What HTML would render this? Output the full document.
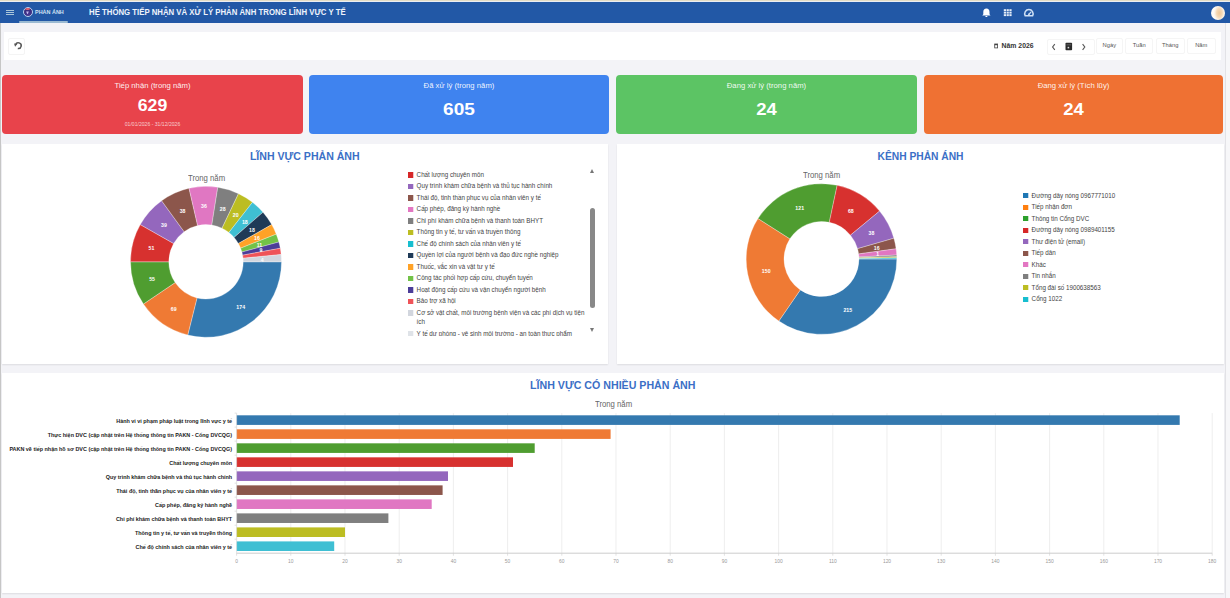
<!DOCTYPE html>
<html lang="vi">
<head>
<meta charset="utf-8">
<title>Hệ thống tiếp nhận và xử lý phản ánh trong lĩnh vực y tế</title>
<style>
*{box-sizing:border-box;margin:0;padding:0}
html,body{width:1230px;height:598px;overflow:hidden}
body{position:relative;background:#f3f3f7;font-family:"Liberation Sans",Arial,sans-serif;color:#333}
.abs{position:absolute}
#topstrip{left:0;top:0;width:1230px;height:2px;background:linear-gradient(#e4dcc4 0,#e4dcc4 60%,#eceef2 75%,#eceef2 100%)}
#leftline{left:0;top:23px;width:1.3px;height:575px;background:#c6c6c6}
#hdr{left:0;top:2px;width:1230px;height:21px;background:#2258a6}
#hdr .ham{left:5.8px;top:7.6px;width:7.8px;height:5.6px;border-top:1.2px solid #aac6da;border-bottom:1.2px solid #aac6da}
#hdr .ham:after{content:"";position:absolute;left:0;top:1.4px;width:7.8px;height:1.1px;background:#aac6da}
#hdr .logo{left:22.6px;top:5.4px;width:10px;height:10px;border-radius:50%;background:radial-gradient(circle at 50% 70%,#4b3a96 0,#3a2c7e 55%,#3a2c7e 62%);border:1px solid #b8d0ee;overflow:hidden}
#hdr .logo:before{content:"";position:absolute;left:1.5px;top:-1.2px;width:5px;height:2.6px;border-radius:50%;background:#e2646e}
#hdr .logo:after{content:"";position:absolute;left:2.6px;top:3px;width:2.6px;height:3px;background:#c8c0f0;clip-path:polygon(0 0,100% 0,50% 100%)}
#hdr .brand{left:35px;top:7px;font-size:5.46px;font-weight:bold;color:#cfe0f2;white-space:nowrap;letter-spacing:0}
#hdr .uline{left:18.5px;top:19.4px;width:49px;height:1.8px;background:#9bbad2;border-radius:1px}
#hdr .title{left:88.6px;top:5.3px;font-size:8.9px;transform:scaleX(0.878);transform-origin:0 0;font-weight:bold;color:#eef3fb;white-space:nowrap}
#hdr .ic{color:#fff}
#hdr .avatar{left:1210.6px;top:3.8px;width:14.5px;height:14.5px;border-radius:50%;background:radial-gradient(ellipse 40% 60% at 60% 50%,#f0c898 0,#f5d9b6 50%,#fbf0e2 80%,#fefbf6 100%)}

#toolbar{left:3.5px;top:31.5px;width:1217.5px;height:28px;background:#fff}
#refresh{left:8px;top:38px;width:16.5px;height:16.5px;border:1px solid #f4f4f4;border-radius:2px;background:#fff}
.yearlbl{left:993px;top:42px;font-size:6.85px;font-weight:bold;color:#333;white-space:nowrap}
.btngrp{left:1047.4px;top:38.5px;height:16px;width:48px;border:1px solid #f5f5f5;background:#fff;border-radius:2px}
.pbtn{top:38.2px;height:15.8px;border:1px solid #f5f5f5;border-radius:2px;background:#fff;font-size:5.75px;color:#555;text-align:center;line-height:13.4px;white-space:nowrap}

.card{top:75px;height:59px;border-radius:4px;color:#fff;text-align:center}
.card .lbl{position:absolute;left:0;right:0;top:5.8px;font-size:7.72px;color:rgba(255,255,255,.92);white-space:nowrap}
.card .num{position:absolute;left:0;right:0;font-weight:bold;color:#fff;white-space:nowrap}
.card .sub{position:absolute;left:0;right:0;top:45.5px;font-size:5.1px;color:rgba(255,255,255,.72);white-space:nowrap}

.panel{background:#fff;box-shadow:0 1px 1.5px rgba(0,0,0,.09)}
.ptitle{position:absolute;left:0;right:0;text-align:center;font-weight:bold;color:#3b6fc6;white-space:nowrap}
.sub2{font-size:8.6px;color:#666;white-space:nowrap;transform:scaleX(0.9);transform-origin:0 0}

.leg{font-size:7.1px;color:#444;transform:scaleX(0.88);transform-origin:0 0}
.leg .li{position:relative;padding-left:9.8px;line-height:9.4px;padding-bottom:2.1px}
.leg .li i{position:absolute;left:0;top:1.5px;width:6.2px;height:5.3px}
</style>
</head>
<body>
<div id="topstrip" class="abs"></div>
<div id="hdr" class="abs">
  <div class="abs ham"></div>
  <div class="abs logo"></div>
  <div class="abs brand">PHẢN ÁNH</div>
  <div class="abs uline"></div>
  <div class="abs title">HỆ THỐNG TIẾP NHẬN VÀ XỬ LÝ PHẢN ÁNH TRONG LĨNH VỰC Y TẾ</div>
  <svg class="abs" style="left:0;top:0" width="1230" height="21" viewBox="0 2 1230 21">
    <!-- bell -->
    <path d="M986.4,8.6c-2,0-3.1,1.5-3.1,3.4v2.3l-1,1.3h8.2l-1-1.3v-2.3c0-1.9-1.1-3.4-3.1-3.4z M985.3,16.1h2.2c0,0.7-0.5,1-1.1,1s-1.1-0.3-1.1-1z" fill="#fff"/>
    <!-- grid -->
    <g fill="#e6eef8">
      <rect x="1003.8" y="9.2" width="2.2" height="1.9"/><rect x="1006.6" y="9.2" width="2.2" height="1.9"/><rect x="1009.4" y="9.2" width="2.2" height="1.9"/>
      <rect x="1003.8" y="11.7" width="2.2" height="1.9"/><rect x="1006.6" y="11.7" width="2.2" height="1.9"/><rect x="1009.4" y="11.7" width="2.2" height="1.9"/>
      <rect x="1003.8" y="14.2" width="2.2" height="1.9"/><rect x="1006.6" y="14.2" width="2.2" height="1.9"/><rect x="1009.4" y="14.2" width="2.2" height="1.9"/>
    </g>
    <!-- gauge -->
    <path d="M1025.2,15.8a4.2,4.2 0 1 1 7.4,0z" fill="none" stroke="#cfe0f5" stroke-width="1.5"/>
    <path d="M1028.9,14.4l2.2,-2.6" stroke="#cfe0f5" stroke-width="1.3"/>
    <circle cx="1028.9" cy="14.4" r="0.9" fill="#cfe0f5"/>
  </svg>
  <div class="abs avatar"></div>
</div>
<div id="leftline" class="abs"></div>
<div class="abs" style="left:1225px;top:23px;width:1px;height:575px;background:#e2e2e6"></div>
<div class="abs" style="left:1226px;top:23px;width:4px;height:575px;background:#f7f7f9"></div>

<div id="toolbar" class="abs"></div>
<div id="refresh" class="abs">
  <svg width="16" height="16" viewBox="0 0 16 16" style="position:absolute;left:0;top:0">
    <path d="M6.6,5.6A2.9,2.9 0 1 1 8.8,9.5" fill="none" stroke="#555" stroke-width="1.5"/>
    <path d="M5.0,4.5l3.3,0.5l-2.2,2.7z" fill="#555"/>
  </svg>
</div>
<div class="abs yearlbl"><svg width="6" height="6" viewBox="0 0 6 6" style="position:absolute;left:0.8px;top:1.4px"><rect x="0.7" y="1.0" width="2.9" height="3.9" fill="none" stroke="#444" stroke-width="0.8"/><rect x="0.7" y="1.0" width="2.9" height="1.2" fill="#444"/></svg><span style="padding-left:8.6px">Năm 2026</span></div>
<div class="abs btngrp">
  <svg width="48" height="16" viewBox="0 0 48 16" style="position:absolute;left:-1px;top:-1px">
    <path d="M7.8,5.2l-2.2,2.8l2.2,2.8" fill="none" stroke="#555" stroke-width="1.1"/>
    <rect x="18.5" y="3.8" width="6.6" height="7.4" rx="0.8" fill="#2a2a2a"/>
    <rect x="19.4" y="5.6" width="4.8" height="0.6" fill="#888"/>
    <rect x="20.6" y="7.8" width="1.6" height="1.6" fill="#ddd"/>
    <path d="M35.6,5.2l2.2,2.8l-2.2,2.8" fill="none" stroke="#555" stroke-width="1.1"/>
  </svg>
</div>
<div class="abs pbtn" style="left:1095.7px;width:27.3px">Ngày</div>
<div class="abs pbtn" style="left:1125.3px;width:27.9px">Tuần</div>
<div class="abs pbtn" style="left:1156px;width:28.5px">Tháng</div>
<div class="abs pbtn" style="left:1186.7px;width:29.1px">Năm</div>

<div class="abs card" style="left:2px;width:301px;background:#e8434b">
  <div class="lbl">Tiếp nhận (trong năm)</div>
  <div class="num" style="top:20.9px;font-size:17px;transform:scaleX(1.04)">629</div>
  <div class="sub">01/01/2026 - 31/12/2026</div>
</div>
<div class="abs card" style="left:309px;width:300px;background:#3f83ef">
  <div class="lbl">Đã xử lý (trong năm)</div>
  <div class="num" style="top:24.7px;font-size:17px;transform:scaleX(1.12)">605</div>
</div>
<div class="abs card" style="left:616px;width:301px;background:#5cc464">
  <div class="lbl">Đang xử lý (trong năm)</div>
  <div class="num" style="top:24.7px;font-size:17px;transform:scaleX(1.09)">24</div>
</div>
<div class="abs card" style="left:924px;width:299px;background:#ef7133">
  <div class="lbl">Đang xử lý (Tích lũy)</div>
  <div class="num" style="top:24.7px;font-size:17px;transform:scaleX(1.09)">24</div>
</div>

<!-- Left pie panel -->
<div class="abs panel" style="left:1.5px;top:143.5px;width:606.5px;height:220px">
  <div class="ptitle" style="top:6.3px;font-size:10.57px">LĨNH VỰC PHẢN ÁNH</div>
</div>
<div class="abs sub2" style="left:188px;top:173px">Trong năm</div>
<svg class="abs" style="left:0;top:0" width="610" height="370" viewBox="0 0 610 370">
<path d="M281.50,261.80A75.5,75.5 0 0 1 187.73,335.06L197.00,297.90A37.2,37.2 0 0 0 243.20,261.80Z" fill="#3479af" stroke="#fff" stroke-width="0.3"/>
<path d="M187.73,335.06A75.5,75.5 0 0 1 143.41,304.02L175.16,282.60A37.2,37.2 0 0 0 197.00,297.90Z" fill="#ef7a34" stroke="#fff" stroke-width="0.3"/>
<path d="M143.41,304.02A75.5,75.5 0 0 1 130.50,261.80L168.80,261.80A37.2,37.2 0 0 0 175.16,282.60Z" fill="#4f9d30" stroke="#fff" stroke-width="0.3"/>
<path d="M130.50,261.80A75.5,75.5 0 0 1 140.29,224.62L173.62,243.48A37.2,37.2 0 0 0 168.80,261.80Z" fill="#d7312f" stroke="#fff" stroke-width="0.3"/>
<path d="M140.29,224.62A75.5,75.5 0 0 1 161.62,200.72L184.13,231.70A37.2,37.2 0 0 0 173.62,243.48Z" fill="#9467bd" stroke="#fff" stroke-width="0.3"/>
<path d="M161.62,200.72A75.5,75.5 0 0 1 189.02,188.24L197.63,225.55A37.2,37.2 0 0 0 184.13,231.70Z" fill="#8c564b" stroke="#fff" stroke-width="0.3"/>
<path d="M189.02,188.24A75.5,75.5 0 0 1 217.81,187.23L211.82,225.06A37.2,37.2 0 0 0 197.63,225.55Z" fill="#e077c2" stroke="#fff" stroke-width="0.3"/>
<path d="M217.81,187.23A75.5,75.5 0 0 1 238.50,193.65L222.02,228.22A37.2,37.2 0 0 0 211.82,225.06Z" fill="#7f7f7f" stroke="#fff" stroke-width="0.3"/>
<path d="M238.50,193.65A75.5,75.5 0 0 1 252.48,202.31L228.90,232.49A37.2,37.2 0 0 0 222.02,228.22Z" fill="#bcbd22" stroke="#fff" stroke-width="0.3"/>
<path d="M252.48,202.31A75.5,75.5 0 0 1 262.98,212.27L234.08,237.39A37.2,37.2 0 0 0 228.90,232.49Z" fill="#3fbfd3" stroke="#fff" stroke-width="0.3"/>
<path d="M262.98,212.27A75.5,75.5 0 0 1 271.71,224.62L238.38,243.48A37.2,37.2 0 0 0 234.08,237.39Z" fill="#1f3a57" stroke="#fff" stroke-width="0.3"/>
<path d="M271.71,224.62A75.5,75.5 0 0 1 276.25,234.13L240.61,248.17A37.2,37.2 0 0 0 238.38,243.48Z" fill="#ffa227" stroke="#fff" stroke-width="0.3"/>
<path d="M276.25,234.13A75.5,75.5 0 0 1 278.86,242.00L241.90,252.05A37.2,37.2 0 0 0 240.61,248.17Z" fill="#72c247" stroke="#fff" stroke-width="0.3"/>
<path d="M278.86,242.00A75.5,75.5 0 0 1 280.28,248.30L242.60,255.15A37.2,37.2 0 0 0 241.90,252.05Z" fill="#4b3d98" stroke="#fff" stroke-width="0.3"/>
<path d="M280.28,248.30A75.5,75.5 0 0 1 281.15,254.56L243.03,258.23A37.2,37.2 0 0 0 242.60,255.15Z" fill="#ef5358" stroke="#fff" stroke-width="0.3"/>
<path d="M281.15,254.56A75.5,75.5 0 0 1 281.50,261.80L243.20,261.80A37.2,37.2 0 0 0 243.03,258.23Z" fill="#d2d6de" stroke="#fff" stroke-width="0.3"/>
<text x="240.7" y="308.8" text-anchor="middle" font-size="5.2" font-weight="bold" fill="#fff">174</text>
<text x="173.7" y="310.6" text-anchor="middle" font-size="5.2" font-weight="bold" fill="#fff">69</text>
<text x="152.1" y="280.9" text-anchor="middle" font-size="5.2" font-weight="bold" fill="#fff">55</text>
<text x="151.5" y="250.1" text-anchor="middle" font-size="5.2" font-weight="bold" fill="#fff">51</text>
<text x="164.0" y="226.9" text-anchor="middle" font-size="5.2" font-weight="bold" fill="#fff">39</text>
<text x="182.6" y="213.1" text-anchor="middle" font-size="5.2" font-weight="bold" fill="#fff">38</text>
<text x="204.0" y="208.1" text-anchor="middle" font-size="5.2" font-weight="bold" fill="#fff">36</text>
<text x="222.7" y="210.6" text-anchor="middle" font-size="5.2" font-weight="bold" fill="#fff">28</text>
<text x="235.7" y="216.5" text-anchor="middle" font-size="5.2" font-weight="bold" fill="#fff">20</text>
<text x="244.8" y="223.5" text-anchor="middle" font-size="5.2" font-weight="bold" fill="#fff">18</text>
<text x="252.0" y="231.9" text-anchor="middle" font-size="5.2" font-weight="bold" fill="#fff">18</text>
<text x="256.9" y="240.1" text-anchor="middle" font-size="5.2" font-weight="bold" fill="#fff">16</text>
<text x="259.5" y="246.7" text-anchor="middle" font-size="5.2" font-weight="bold" fill="#fff">11</text>
<text x="261.0" y="252.0" text-anchor="middle" font-size="5.2" font-weight="bold" fill="#fff">9</text>
<text x="262.3" y="261.7" text-anchor="middle" font-size="5.2" font-weight="bold" fill="#fff">4</text>
</svg>
<div class="abs leg" style="left:408px;top:170.9px;width:204.5px;height:164.8px;overflow:hidden">
  <div style="position:relative">
<div class="li"><i style="background:#d62728"></i><span>Chất lượng chuyên môn</span></div>
<div class="li"><i style="background:#9467bd"></i><span>Quy trình khám chữa bệnh và thủ tục hành chính</span></div>
<div class="li"><i style="background:#8c564b"></i><span>Thái độ, tinh thần phục vụ của nhân viên y tế</span></div>
<div class="li"><i style="background:#e377c2"></i><span>Cấp phép, đăng ký hành nghề</span></div>
<div class="li"><i style="background:#7f7f7f"></i><span>Chi phí khám chữa bệnh và thanh toán BHYT</span></div>
<div class="li"><i style="background:#bcbd22"></i><span>Thông tin y tế, tư vấn và truyền thông</span></div>
<div class="li"><i style="background:#17becf"></i><span>Chế độ chính sách của nhân viên y tế</span></div>
<div class="li"><i style="background:#1f3a57"></i><span>Quyền lợi của người bệnh và đạo đức nghề nghiệp</span></div>
<div class="li"><i style="background:#ffa227"></i><span>Thuốc, vắc xin và vật tư y tế</span></div>
<div class="li"><i style="background:#72c247"></i><span>Công tác phối hợp cấp cứu, chuyển tuyến</span></div>
<div class="li"><i style="background:#4b3d98"></i><span>Hoạt động cấp cứu và vận chuyển người bệnh</span></div>
<div class="li"><i style="background:#ef5358"></i><span>Bảo trợ xã hội</span></div>
<div class="li"><i style="background:#d2d6de"></i><span>Cơ sở vật chất, môi trường bệnh viện và các phí dịch vụ tiện ích</span></div>
<div class="li"><i style="background:#dfe3e8"></i><span>Y tế dự phòng - vệ sinh môi trường - an toàn thực phẩm</span></div>
  </div>
</div>
<div class="abs" style="left:590.4px;top:207.6px;width:5px;height:100px;background:#888;border-radius:2.5px"></div>
<div class="abs" style="left:590.3px;top:169.2px;width:0;height:0;border-left:2.8px solid transparent;border-right:2.8px solid transparent;border-bottom:4px solid #777"></div>
<div class="abs" style="left:590.3px;top:328.3px;width:0;height:0;border-left:2.8px solid transparent;border-right:2.8px solid transparent;border-top:4px solid #777"></div>

<!-- Right pie panel -->
<div class="abs panel" style="left:617px;top:143.5px;width:607px;height:220px">
  <div class="ptitle" style="top:7px;font-size:10.25px">KÊNH PHẢN ÁNH</div>
</div>
<div class="abs sub2" style="left:802.8px;top:169.5px">Trong năm</div>
<svg class="abs" style="left:0;top:0" width="1230" height="370" viewBox="0 0 1230 370">
<path d="M896.80,259.00A75.3,75.3 0 0 1 778.85,321.06L800.26,289.90A37.5,37.5 0 0 0 859.00,259.00Z" fill="#3479af" stroke="#fff" stroke-width="0.3"/>
<path d="M778.85,321.06A75.3,75.3 0 0 1 757.99,218.54L789.87,238.85A37.5,37.5 0 0 0 800.26,289.90Z" fill="#ef7a34" stroke="#fff" stroke-width="0.3"/>
<path d="M757.99,218.54A75.3,75.3 0 0 1 837.16,185.35L829.30,222.32A37.5,37.5 0 0 0 789.87,238.85Z" fill="#4f9d30" stroke="#fff" stroke-width="0.3"/>
<path d="M837.16,185.35A75.3,75.3 0 0 1 879.60,211.10L850.44,235.15A37.5,37.5 0 0 0 829.30,222.32Z" fill="#d7312f" stroke="#fff" stroke-width="0.3"/>
<path d="M879.60,211.10A75.3,75.3 0 0 1 893.88,238.24L857.55,248.66A37.5,37.5 0 0 0 850.44,235.15Z" fill="#9467bd" stroke="#fff" stroke-width="0.3"/>
<path d="M893.88,238.24A75.3,75.3 0 0 1 896.10,248.78L858.65,253.91A37.5,37.5 0 0 0 857.55,248.66Z" fill="#8c564b" stroke="#fff" stroke-width="0.3"/>
<path d="M896.10,248.78A75.3,75.3 0 0 1 896.70,255.06L858.95,257.04A37.5,37.5 0 0 0 858.65,253.91Z" fill="#e077c2" stroke="#fff" stroke-width="0.3"/>
<path d="M896.70,255.06A75.3,75.3 0 0 1 896.76,256.63L858.98,257.82A37.5,37.5 0 0 0 858.95,257.04Z" fill="#7f7f7f" stroke="#fff" stroke-width="0.3"/>
<path d="M896.76,256.63A75.3,75.3 0 0 1 896.79,257.82L859.00,258.41A37.5,37.5 0 0 0 858.98,257.82Z" fill="#bcbd22" stroke="#fff" stroke-width="0.3"/>
<path d="M896.79,257.82A75.3,75.3 0 0 1 896.80,259.00L859.00,259.00A37.5,37.5 0 0 0 859.00,258.41Z" fill="#3fbfd3" stroke="#fff" stroke-width="0.3"/>
<text x="847.8" y="311.5" text-anchor="middle" font-size="5.2" font-weight="bold" fill="#fff">215</text>
<text x="766.2" y="272.8" text-anchor="middle" font-size="5.2" font-weight="bold" fill="#fff">150</text>
<text x="799.7" y="209.6" text-anchor="middle" font-size="5.2" font-weight="bold" fill="#fff">121</text>
<text x="850.8" y="213.4" text-anchor="middle" font-size="5.2" font-weight="bold" fill="#fff">68</text>
<text x="871.4" y="235.3" text-anchor="middle" font-size="5.2" font-weight="bold" fill="#fff">38</text>
<text x="876.7" y="250.0" text-anchor="middle" font-size="5.2" font-weight="bold" fill="#fff">16</text>
<text x="877.6" y="256.3" text-anchor="middle" font-size="5.2" font-weight="bold" fill="#fff">1</text>
</svg>
<div class="abs leg" style="left:1023.3px;top:191.7px;width:215px">
<div class="li"><i style="background:#1f77b4"></i><span>Đường dây nóng 0967771010</span></div>
<div class="li"><i style="background:#ff7f0e"></i><span>Tiếp nhận đơn</span></div>
<div class="li"><i style="background:#2ca02c"></i><span>Thông tin Cổng DVC</span></div>
<div class="li"><i style="background:#d62728"></i><span>Đường dây nóng 0989401155</span></div>
<div class="li"><i style="background:#9467bd"></i><span>Thư điện tử (email)</span></div>
<div class="li"><i style="background:#8c564b"></i><span>Tiếp dân</span></div>
<div class="li"><i style="background:#e377c2"></i><span>Khác</span></div>
<div class="li"><i style="background:#7f7f7f"></i><span>Tin nhắn</span></div>
<div class="li"><i style="background:#bcbd22"></i><span>Tổng đài số 1900638563</span></div>
<div class="li"><i style="background:#17becf"></i><span>Cổng 1022</span></div>
</div>

<!-- Bar panel -->
<div class="abs panel" style="left:1.5px;top:372.5px;width:1222.5px;height:220.5px">
  <div class="ptitle" style="top:6.9px;font-size:10.65px">LĨNH VỰC CÓ NHIỀU PHẢN ÁNH</div>
</div>
<div class="abs sub2" style="left:594.6px;top:398.7px">Trong năm</div>
<svg class="abs" style="left:0;top:0" width="1230" height="598" viewBox="0 0 1230 598" font-family="Liberation Sans, Arial, sans-serif">
<line x1="236.6" y1="413.1" x2="236.6" y2="553.2" stroke="#e6e6e6" stroke-width="0.7"/>
<line x1="236.6" y1="553.2" x2="236.6" y2="555.7" stroke="#ccc" stroke-width="0.6"/>
<text x="236.6" y="563.0" text-anchor="middle" font-size="4.9" fill="#999">0</text>
<line x1="290.8" y1="413.1" x2="290.8" y2="553.2" stroke="#e6e6e6" stroke-width="0.7"/>
<line x1="290.8" y1="553.2" x2="290.8" y2="555.7" stroke="#ccc" stroke-width="0.6"/>
<text x="290.8" y="563.0" text-anchor="middle" font-size="4.9" fill="#999">10</text>
<line x1="345.0" y1="413.1" x2="345.0" y2="553.2" stroke="#e6e6e6" stroke-width="0.7"/>
<line x1="345.0" y1="553.2" x2="345.0" y2="555.7" stroke="#ccc" stroke-width="0.6"/>
<text x="345.0" y="563.0" text-anchor="middle" font-size="4.9" fill="#999">20</text>
<line x1="399.2" y1="413.1" x2="399.2" y2="553.2" stroke="#e6e6e6" stroke-width="0.7"/>
<line x1="399.2" y1="553.2" x2="399.2" y2="555.7" stroke="#ccc" stroke-width="0.6"/>
<text x="399.2" y="563.0" text-anchor="middle" font-size="4.9" fill="#999">30</text>
<line x1="453.4" y1="413.1" x2="453.4" y2="553.2" stroke="#e6e6e6" stroke-width="0.7"/>
<line x1="453.4" y1="553.2" x2="453.4" y2="555.7" stroke="#ccc" stroke-width="0.6"/>
<text x="453.4" y="563.0" text-anchor="middle" font-size="4.9" fill="#999">40</text>
<line x1="507.6" y1="413.1" x2="507.6" y2="553.2" stroke="#e6e6e6" stroke-width="0.7"/>
<line x1="507.6" y1="553.2" x2="507.6" y2="555.7" stroke="#ccc" stroke-width="0.6"/>
<text x="507.6" y="563.0" text-anchor="middle" font-size="4.9" fill="#999">50</text>
<line x1="561.8" y1="413.1" x2="561.8" y2="553.2" stroke="#e6e6e6" stroke-width="0.7"/>
<line x1="561.8" y1="553.2" x2="561.8" y2="555.7" stroke="#ccc" stroke-width="0.6"/>
<text x="561.8" y="563.0" text-anchor="middle" font-size="4.9" fill="#999">60</text>
<line x1="616.0" y1="413.1" x2="616.0" y2="553.2" stroke="#e6e6e6" stroke-width="0.7"/>
<line x1="616.0" y1="553.2" x2="616.0" y2="555.7" stroke="#ccc" stroke-width="0.6"/>
<text x="616.0" y="563.0" text-anchor="middle" font-size="4.9" fill="#999">70</text>
<line x1="670.2" y1="413.1" x2="670.2" y2="553.2" stroke="#e6e6e6" stroke-width="0.7"/>
<line x1="670.2" y1="553.2" x2="670.2" y2="555.7" stroke="#ccc" stroke-width="0.6"/>
<text x="670.2" y="563.0" text-anchor="middle" font-size="4.9" fill="#999">80</text>
<line x1="724.4" y1="413.1" x2="724.4" y2="553.2" stroke="#e6e6e6" stroke-width="0.7"/>
<line x1="724.4" y1="553.2" x2="724.4" y2="555.7" stroke="#ccc" stroke-width="0.6"/>
<text x="724.4" y="563.0" text-anchor="middle" font-size="4.9" fill="#999">90</text>
<line x1="778.6" y1="413.1" x2="778.6" y2="553.2" stroke="#e6e6e6" stroke-width="0.7"/>
<line x1="778.6" y1="553.2" x2="778.6" y2="555.7" stroke="#ccc" stroke-width="0.6"/>
<text x="778.6" y="563.0" text-anchor="middle" font-size="4.9" fill="#999">100</text>
<line x1="832.8" y1="413.1" x2="832.8" y2="553.2" stroke="#e6e6e6" stroke-width="0.7"/>
<line x1="832.8" y1="553.2" x2="832.8" y2="555.7" stroke="#ccc" stroke-width="0.6"/>
<text x="832.8" y="563.0" text-anchor="middle" font-size="4.9" fill="#999">110</text>
<line x1="887.0" y1="413.1" x2="887.0" y2="553.2" stroke="#e6e6e6" stroke-width="0.7"/>
<line x1="887.0" y1="553.2" x2="887.0" y2="555.7" stroke="#ccc" stroke-width="0.6"/>
<text x="887.0" y="563.0" text-anchor="middle" font-size="4.9" fill="#999">120</text>
<line x1="941.2" y1="413.1" x2="941.2" y2="553.2" stroke="#e6e6e6" stroke-width="0.7"/>
<line x1="941.2" y1="553.2" x2="941.2" y2="555.7" stroke="#ccc" stroke-width="0.6"/>
<text x="941.2" y="563.0" text-anchor="middle" font-size="4.9" fill="#999">130</text>
<line x1="995.4" y1="413.1" x2="995.4" y2="553.2" stroke="#e6e6e6" stroke-width="0.7"/>
<line x1="995.4" y1="553.2" x2="995.4" y2="555.7" stroke="#ccc" stroke-width="0.6"/>
<text x="995.4" y="563.0" text-anchor="middle" font-size="4.9" fill="#999">140</text>
<line x1="1049.6" y1="413.1" x2="1049.6" y2="553.2" stroke="#e6e6e6" stroke-width="0.7"/>
<line x1="1049.6" y1="553.2" x2="1049.6" y2="555.7" stroke="#ccc" stroke-width="0.6"/>
<text x="1049.6" y="563.0" text-anchor="middle" font-size="4.9" fill="#999">150</text>
<line x1="1103.8" y1="413.1" x2="1103.8" y2="553.2" stroke="#e6e6e6" stroke-width="0.7"/>
<line x1="1103.8" y1="553.2" x2="1103.8" y2="555.7" stroke="#ccc" stroke-width="0.6"/>
<text x="1103.8" y="563.0" text-anchor="middle" font-size="4.9" fill="#999">160</text>
<line x1="1158.0" y1="413.1" x2="1158.0" y2="553.2" stroke="#e6e6e6" stroke-width="0.7"/>
<line x1="1158.0" y1="553.2" x2="1158.0" y2="555.7" stroke="#ccc" stroke-width="0.6"/>
<text x="1158.0" y="563.0" text-anchor="middle" font-size="4.9" fill="#999">170</text>
<line x1="1212.2" y1="413.1" x2="1212.2" y2="553.2" stroke="#e6e6e6" stroke-width="0.7"/>
<line x1="1212.2" y1="553.2" x2="1212.2" y2="555.7" stroke="#ccc" stroke-width="0.6"/>
<text x="1212.2" y="563.0" text-anchor="middle" font-size="4.9" fill="#999">180</text>
<rect x="236.6" y="415.31" width="943.1" height="9.6" fill="#3479af"/>
<text transform="translate(232.1 0) scale(0.92 1)" x="0" y="422.81" text-anchor="end" font-size="5.9" font-weight="bold" fill="#222">Hành vi vi phạm pháp luật trong lĩnh vực y tế</text>
<line x1="234.6" y1="413.10" x2="236.6" y2="413.10" stroke="#ccc" stroke-width="0.6"/>
<rect x="236.6" y="429.31" width="374.0" height="9.6" fill="#ef7a34"/>
<text transform="translate(232.1 0) scale(0.92 1)" x="0" y="436.81" text-anchor="end" font-size="5.9" font-weight="bold" fill="#222">Thực hiện DVC (cập nhật trên Hệ thống thông tin PAKN - Cổng DVCQG)</text>
<line x1="234.6" y1="427.11" x2="236.6" y2="427.11" stroke="#ccc" stroke-width="0.6"/>
<rect x="236.6" y="443.32" width="298.1" height="9.6" fill="#4f9d30"/>
<text transform="translate(232.1 0) scale(0.92 1)" x="0" y="450.82" text-anchor="end" font-size="5.9" font-weight="bold" fill="#222">PAKN về tiếp nhận hồ sơ DVC (cập nhật trên Hệ thống thông tin PAKN - Cổng DVCQG)</text>
<line x1="234.6" y1="441.12" x2="236.6" y2="441.12" stroke="#ccc" stroke-width="0.6"/>
<rect x="236.6" y="457.33" width="276.4" height="9.6" fill="#d7312f"/>
<text transform="translate(232.1 0) scale(0.92 1)" x="0" y="464.83" text-anchor="end" font-size="5.9" font-weight="bold" fill="#222">Chất lượng chuyên môn</text>
<line x1="234.6" y1="455.13" x2="236.6" y2="455.13" stroke="#ccc" stroke-width="0.6"/>
<rect x="236.6" y="471.35" width="211.4" height="9.6" fill="#9467bd"/>
<text transform="translate(232.1 0) scale(0.92 1)" x="0" y="478.85" text-anchor="end" font-size="5.9" font-weight="bold" fill="#222">Quy trình khám chữa bệnh và thủ tục hành chính</text>
<line x1="234.6" y1="469.14" x2="236.6" y2="469.14" stroke="#ccc" stroke-width="0.6"/>
<rect x="236.6" y="485.36" width="206.0" height="9.6" fill="#8c564b"/>
<text transform="translate(232.1 0) scale(0.92 1)" x="0" y="492.86" text-anchor="end" font-size="5.9" font-weight="bold" fill="#222">Thái độ, tinh thần phục vụ của nhân viên y tế</text>
<line x1="234.6" y1="483.15" x2="236.6" y2="483.15" stroke="#ccc" stroke-width="0.6"/>
<rect x="236.6" y="499.37" width="195.1" height="9.6" fill="#e077c2"/>
<text transform="translate(232.1 0) scale(0.92 1)" x="0" y="506.87" text-anchor="end" font-size="5.9" font-weight="bold" fill="#222">Cấp phép, đăng ký hành nghề</text>
<line x1="234.6" y1="497.16" x2="236.6" y2="497.16" stroke="#ccc" stroke-width="0.6"/>
<rect x="236.6" y="513.38" width="151.8" height="9.6" fill="#7f7f7f"/>
<text transform="translate(232.1 0) scale(0.92 1)" x="0" y="520.88" text-anchor="end" font-size="5.9" font-weight="bold" fill="#222">Chi phí khám chữa bệnh và thanh toán BHYT</text>
<line x1="234.6" y1="511.17" x2="236.6" y2="511.17" stroke="#ccc" stroke-width="0.6"/>
<rect x="236.6" y="527.39" width="108.4" height="9.6" fill="#bcbd22"/>
<text transform="translate(232.1 0) scale(0.92 1)" x="0" y="534.89" text-anchor="end" font-size="5.9" font-weight="bold" fill="#222">Thông tin y tế, tư vấn và truyền thông</text>
<line x1="234.6" y1="525.18" x2="236.6" y2="525.18" stroke="#ccc" stroke-width="0.6"/>
<rect x="236.6" y="541.40" width="97.6" height="9.6" fill="#3fbfd3"/>
<text transform="translate(232.1 0) scale(0.92 1)" x="0" y="548.90" text-anchor="end" font-size="5.9" font-weight="bold" fill="#222">Chế độ chính sách của nhân viên y tế</text>
<line x1="234.6" y1="539.19" x2="236.6" y2="539.19" stroke="#ccc" stroke-width="0.6"/>
<line x1="236.6" y1="553.2" x2="1212.2" y2="553.2" stroke="#ccc" stroke-width="1"/>
<line x1="236.6" y1="413.1" x2="236.6" y2="553.2" stroke="#ddd" stroke-width="0.6"/>
</svg>
</body>
</html>
